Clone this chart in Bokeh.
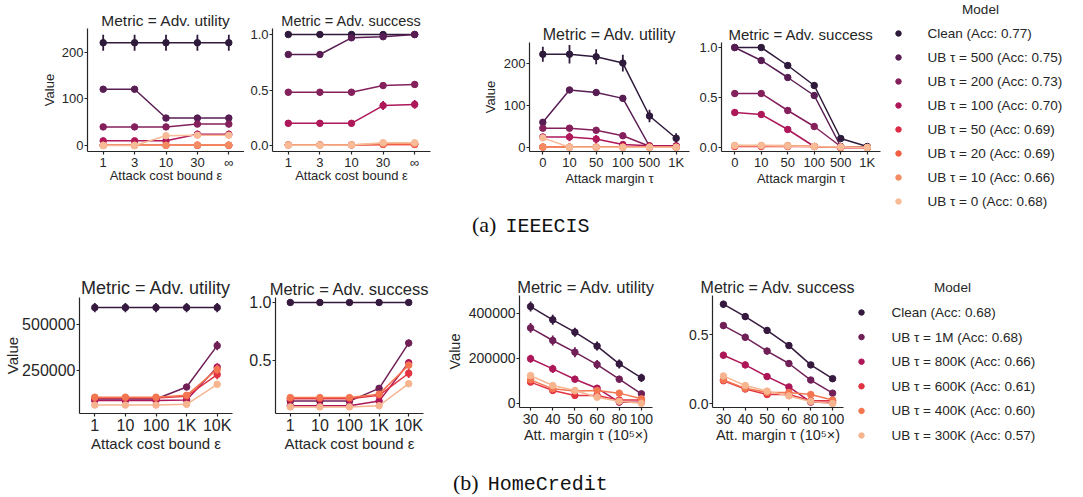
from bokeh.plotting import figure
from bokeh.layouts import row, column
from bokeh.models import Div, FactorRange, Range1d, FixedTicker, NumeralTickFormatter
from bokeh.core.properties import value
from bokeh.embed import file_html
from bokeh.resources import INLINE

FONT = "Liberation Sans"
INK = "#262626"

# ------------------------------------------------------------------ data
ieee_eps = ["1", "3", "10", "30", "∞"]
ieee_tau = ["0", "10", "50", "100", "500", "1K"]
ieee_models = ["Clean (Acc: 0.77)", "UB τ = 500 (Acc: 0.75)", "UB τ = 200 (Acc: 0.73)",
               "UB τ = 100 (Acc: 0.70)", "UB τ = 50 (Acc: 0.69)", "UB τ = 20 (Acc: 0.69)",
               "UB τ = 10 (Acc: 0.66)", "UB τ = 0 (Acc: 0.68)"]
ieee_colors = ["#2e1a3b", "#581d53", "#84205b", "#ae1759", "#dd2c45", "#f06043", "#f48c63", "#f7bb97"]

ieee_util_eps = [
    [221, 221, 221, 221, 221],
    [121, 121, 59, 59, 59],
    [40, 40, 40, 46, 46],
    [10, 10, 10, 24, 24],
    [0.5, 0.5, 0.5, 0.5, 0.5],
    [0.3, 0.3, 0.3, 0.5, 0.5],
    [0.5, 0.5, 0.5, 1, 1],
    [0, 0, 21, 22, 22],
]
ieee_util_eps_err = [
    [17, 17, 17, 17, 17],
    [5, 5, 4, 4, 4],
    [3, 3, 3, 3, 3],
    [3, 3, 3, 8, 8],
    [1, 1, 1, 1, 1],
    [1, 1, 1, 1, 1],
    [1, 1, 1, 2, 2],
    [1, 1, 3, 3, 3],
]
ieee_succ_eps = [
    [1.0, 1.0, 1.0, 1.0, 1.0],
    [0.82, 0.82, 0.97, 0.98, 1.0],
    [0.48, 0.48, 0.48, 0.54, 0.55],
    [0.20, 0.20, 0.20, 0.36, 0.37],
    [0.005, 0.005, 0.005, 0.01, 0.01],
    [0.005, 0.005, 0.005, 0.01, 0.01],
    [0.005, 0.005, 0.005, 0.02, 0.02],
    [0.003, 0.003, 0.005, 0.025, 0.025],
]
ieee_succ_eps_err = [
    [0.005, 0.005, 0.005, 0.005, 0.005],
    [0.02, 0.02, 0.02, 0.02, 0.01],
    [0.03, 0.03, 0.03, 0.03, 0.03],
    [0.03, 0.03, 0.03, 0.04, 0.04],
    [0.01, 0.01, 0.01, 0.01, 0.01],
    [0.01, 0.01, 0.01, 0.01, 0.01],
    [0.01, 0.01, 0.01, 0.015, 0.015],
    [0.01, 0.01, 0.01, 0.015, 0.015],
]
ieee_util_tau = [
    [222, 222, 216, 201, 75, 22],
    [60, 137, 131, 117, 3, 2],
    [46, 46, 41, 28, 3, 2],
    [25, 25, 20, 7, 4, 4],
    [1, 1, 1, 1, 1, 1],
    [1, 1, 1, 1, 1, 0.5],
    [1, 0.5, 0.5, 0.5, 0.5, 0.5],
    [23, 0.5, 0.5, 0.5, 0.5, 0.5],
]
ieee_util_tau_err = [
    [18, 22, 18, 20, 15, 12],
    [5, 6, 7, 8, 2, 1],
    [3, 3, 3, 3, 1, 1],
    [8, 10, 10, 6, 2, 2],
    [2, 2, 2, 2, 1, 1],
    [2, 2, 2, 2, 1, 1],
    [2, 1, 1, 1, 1, 1],
    [4, 1, 1, 1, 1, 1],
]
ieee_succ_tau = [
    [1.0, 1.0, 0.82, 0.62, 0.09, 0.01],
    [1.0, 0.87, 0.70, 0.52, 0.01, 0.0],
    [0.54, 0.54, 0.37, 0.21, 0.01, 0.0],
    [0.35, 0.33, 0.18, 0.01, 0.0, 0.0],
    [0.01, 0.01, 0.01, 0.01, 0.0, 0.0],
    [0.015, 0.015, 0.015, 0.01, 0.0, 0.0],
    [0.02, 0.02, 0.02, 0.01, 0.005, 0.0],
    [0.02, 0.02, 0.015, 0.01, 0.005, 0.0],
]
ieee_succ_tau_err = [
    [0.005, 0.01, 0.02, 0.03, 0.01, 0.005],
    [0.01, 0.02, 0.02, 0.03, 0.005, 0.005],
    [0.03, 0.03, 0.03, 0.02, 0.005, 0.005],
    [0.03, 0.03, 0.02, 0.01, 0.005, 0.005],
    [0.015, 0.015, 0.015, 0.01, 0.005, 0.005],
    [0.015, 0.015, 0.015, 0.01, 0.005, 0.005],
    [0.015, 0.015, 0.015, 0.01, 0.005, 0.005],
    [0.015, 0.015, 0.015, 0.01, 0.005, 0.005],
]

hc_eps = ["1", "10", "100", "1K", "10K"]
hc_tau = ["30", "40", "50", "60", "80", "100"]
hc_models = ["Clean (Acc: 0.68)", "UB τ = 1M (Acc: 0.68)", "UB τ = 800K (Acc: 0.66)",
             "UB τ = 600K (Acc: 0.61)", "UB τ = 400K (Acc: 0.60)", "UB τ = 300K (Acc: 0.57)"]
hc_colors = ["#35193e", "#701f57", "#ad1759", "#e13342", "#f37651", "#f6b48f"]

hc_util_eps = [
    [592000, 592000, 592000, 592000, 592000],
    [95000, 95000, 95000, 160000, 385000],
    [87000, 87000, 87000, 90000, 268000],
    [100000, 100000, 100000, 110000, 228000],
    [105000, 105000, 105000, 115000, 256000],
    [62000, 62000, 62000, 66000, 175000],
]
hc_util_eps_err = [
    [25000, 25000, 25000, 25000, 25000],
    [12000, 12000, 12000, 15000, 25000],
    [12000, 12000, 12000, 12000, 22000],
    [15000, 15000, 15000, 15000, 25000],
    [15000, 15000, 15000, 15000, 25000],
    [10000, 10000, 10000, 10000, 15000],
]
hc_succ_eps = [
    [1.0, 1.0, 1.0, 1.0, 1.0],
    [0.15, 0.15, 0.15, 0.26, 0.65],
    [0.11, 0.11, 0.11, 0.15, 0.48],
    [0.17, 0.17, 0.17, 0.20, 0.39],
    [0.18, 0.18, 0.18, 0.21, 0.46],
    [0.10, 0.10, 0.10, 0.11, 0.30],
]
hc_succ_eps_err = [
    [0.005, 0.005, 0.005, 0.005, 0.005],
    [0.02, 0.02, 0.02, 0.02, 0.03],
    [0.02, 0.02, 0.02, 0.02, 0.03],
    [0.02, 0.02, 0.02, 0.02, 0.04],
    [0.02, 0.02, 0.02, 0.02, 0.03],
    [0.01, 0.01, 0.01, 0.01, 0.02],
]
hc_util_tau = [
    [431000, 372000, 317000, 255000, 176000, 114000],
    [336000, 280000, 228000, 173000, 108000, 43000],
    [199000, 154000, 108000, 68000, 6000, 5000],
    [95000, 58000, 36000, 36000, 15000, 15000],
    [105000, 65000, 55000, 58000, 46000, 21000],
    [124000, 80000, 58000, 28000, 10000, 1000],
]
hc_util_tau_err = [
    [22000, 22000, 20000, 20000, 20000, 18000],
    [22000, 22000, 22000, 20000, 15000, 12000],
    [18000, 18000, 15000, 12000, 8000, 6000],
    [12000, 12000, 10000, 10000, 8000, 8000],
    [12000, 12000, 10000, 10000, 10000, 8000],
    [12000, 10000, 10000, 8000, 6000, 4000],
]
hc_succ_tau = [
    [0.72, 0.63, 0.53, 0.42, 0.28, 0.18],
    [0.565, 0.48, 0.38, 0.29, 0.17, 0.075],
    [0.35, 0.28, 0.195, 0.12, 0.01, 0.005],
    [0.165, 0.105, 0.065, 0.065, 0.02, 0.02],
    [0.17, 0.11, 0.08, 0.08, 0.065, 0.025],
    [0.20, 0.13, 0.09, 0.055, 0.015, 0.0],
]
hc_succ_tau_err = [
    [0.025, 0.025, 0.025, 0.025, 0.02, 0.02],
    [0.025, 0.025, 0.025, 0.025, 0.02, 0.015],
    [0.025, 0.025, 0.02, 0.02, 0.01, 0.01],
    [0.02, 0.02, 0.015, 0.015, 0.01, 0.01],
    [0.02, 0.02, 0.015, 0.015, 0.015, 0.01],
    [0.02, 0.015, 0.015, 0.01, 0.01, 0.005],
]


# ------------------------------------------------------------------ helpers
def panel(cats, vals, errs, colors, yr, yticks, yfmt, title, xlabel, ylabel,
          width, height, left, right, top, bottom,
          fs_title, fs_tick, fs_label, xl_standoff, yl_standoff, title_standoff,
          xtick_standoff=0):
    p = figure(width=width, height=height, x_range=FactorRange(*cats),
               y_range=Range1d(*yr), output_backend="svg", toolbar_location=None,
               min_border_left=left, min_border_right=right,
               min_border_top=top, min_border_bottom=bottom, frame_align=False)
    for v, e, c in zip(vals, errs, colors):
        lo = [a - b for a, b in zip(v, e)]
        hi = [a + b for a, b in zip(v, e)]
        p.line(cats, v, line_color=c, line_width=1.5)
        p.segment(x0=cats, y0=lo, x1=cats, y1=hi, line_color=c, line_width=1.8)
        p.scatter(cats, v, size=6.5, fill_color=c, line_color=c)
    p.xgrid.visible = False
    p.ygrid.visible = False
    p.outline_line_color = None
    p.yaxis.ticker = FixedTicker(ticks=yticks)
    p.yaxis.formatter = NumeralTickFormatter(format=yfmt)
    for ax in (p.xaxis[0], p.yaxis[0]):
        ax.axis_line_color = INK
        ax.axis_line_width = 1.2
        ax.major_tick_line_color = INK
        ax.major_tick_line_width = 1.2
        ax.major_tick_in = 0
        ax.major_tick_out = 3
        ax.minor_tick_line_color = None
        ax.major_label_text_font = FONT
        ax.major_label_text_font_size = fs_tick
        ax.major_label_text_color = INK
        ax.axis_label_text_font = FONT
        ax.axis_label_text_font_size = fs_label
        ax.axis_label_text_font_style = "normal"
        ax.axis_label_text_color = INK
    p.xaxis.major_label_standoff = xtick_standoff
    p.yaxis.major_label_standoff = 1
    p.xaxis.axis_label = xlabel
    p.xaxis.axis_label_standoff = xl_standoff
    if ylabel:
        p.yaxis.axis_label = ylabel
        p.yaxis.axis_label_standoff = yl_standoff
    p.title.text = title
    p.title.align = "center"
    p.title.text_font = FONT
    p.title.text_font_size = fs_title
    p.title.text_font_style = "normal"
    p.title.text_color = INK
    p.title.standoff = title_standoff
    return p


def legend_fig(labels, colors, width, height, x_dot, x_text, x_title, y0, pitch, fs):
    n = len(labels)
    idx = list(range(n))
    p = figure(width=width, height=height, x_range=Range1d(0, width),
               y_range=Range1d((height - y0) / pitch, -y0 / pitch),
               output_backend="svg", toolbar_location=None, min_border=0,
               x_axis_location=None, y_axis_location=None, frame_align=False)
    p.xgrid.visible = False
    p.ygrid.visible = False
    p.outline_line_color = None
    p.scatter(x=[x_dot] * n, y=idx, size=5.5, fill_color=colors, line_color=colors)
    p.text(x=[x_text] * n, y=idx, text=labels, text_baseline="middle", text_align="left",
           text_font=value(FONT), text_font_size=fs, text_color=INK)
    p.text(x=[x_title], y=[-1], text=["Model"], text_baseline="middle", text_align="center",
           text_font=value(FONT), text_font_size=fs, text_color=INK)
    return p


TOP_H = 215
# ------------------------------------------------------------------ top row
f1 = panel(ieee_eps, ieee_util_eps, ieee_util_eps_err, ieee_colors, (-12.9, 251.6), [0, 100, 200], "0",
           "Metric = Adv. utility", "Attack cost bound ε", "Value",
           244, TOP_H, 87, 0, 28, TOP_H - 151, "15.5px", "13px", "13px", -5, 2, 0)
f2 = panel(ieee_eps, ieee_succ_eps, ieee_succ_eps_err, ieee_colors, (-0.054, 1.054), [0, 0.5, 1.0], "0.0",
           "Metric = Adv. success", "Attack cost bound ε", None,
           202, TOP_H, 28, 16, 28, TOP_H - 151, "14.5px", "13px", "13px", -5, 2, 0)
f3 = panel(ieee_tau, ieee_util_tau, ieee_util_tau_err, ieee_colors, (-9.5, 250), [0, 100, 200], "0",
           "Metric = Adv. utility", "Attack margin τ", "Value",
           249, TOP_H, 83, 6, 42, TOP_H - 151, "16px", "13px", "13px", -2, 3, 0)
f4 = panel(ieee_tau, ieee_succ_tau, ieee_succ_tau_err, ieee_colors, (-0.04, 1.05), [0, 0.5, 1.0], "0.0",
           "Metric = Adv. success", "Attack margin τ", None,
           190, TOP_H, 26, 5, 42, TOP_H - 151, "15px", "13px", "13px", -2, 2, 0)
leg1 = legend_fig(ieee_models, ieee_colors, 198, TOP_H, 13, 42, 95, 33, 24, "13.5px")

# ------------------------------------------------------------------ bottom row
f5 = panel(hc_eps, hc_util_eps, hc_util_eps_err, hc_colors, (16300, 646700), [250000, 500000], "0",
           "Metric = Adv. utility", "Attack cost bound ε", "Value",
           240, 230, 79, 8, 57, 57, "18px", "16px", "15px", -2, -2, 0)
f6 = panel(hc_eps, hc_succ_eps, hc_succ_eps_err, hc_colors, (0.043, 1.043), [0.5, 1.0], "0.0",
           "Metric = Adv. success", "Attack cost bound ε", None,
           200, 230, 35, 17, 57, 57, "16.5px", "16px", "15px", -2, 2, 0)
f7 = panel(hc_tau, hc_util_tau, hc_util_tau_err, hc_colors, (-17800, 480000), [0, 200000, 400000], "0",
           "Metric = Adv. utility", "Att. margin τ (10⁵×)", "Value",
           230, 230, 79, 18, 55, 63, "16.5px", "14px", "14.5px", 0, 3, 0, 3)
f8 = panel(hc_tau, hc_succ_tau, hc_succ_tau_err, hc_colors, (-0.029, 0.783), [0, 0.5], "0.0",
           "Metric = Adv. success", "Att. margin τ (10⁵×)", None,
           185, 230, 42, 12, 55, 63, "16px", "14px", "14.5px", 0, 2, 0, 3)
leg2 = legend_fig(hc_models, hc_colors, 228, 230, 6, 36, 97, 72, 24.6, "13.5px")

cap_a = Div(text='<div style="position:absolute; left:472px; top:-1px; white-space:nowrap; '
                 'font-size:22px; line-height:1; color:#111; font-family:\'Liberation Serif\';">'
                 '(a)<span style="font-family:\'Liberation Mono\'; font-size:20px; margin-left:9px;">'
                 'IEEECIS</span></div>',
            width=1083, height=240 - TOP_H, margin=(0, 0, 0, 0))
cap_b = Div(text='<div style="position:absolute; left:453px; top:2px; white-space:nowrap; '
                 'font-size:22px; line-height:1; color:#111; font-family:\'Liberation Serif\';">'
                 '(b)<span style="font-family:\'Liberation Mono\'; font-size:20px; margin-left:9px;">'
                 'HomeCredit</span></div>',
            width=1083, height=27, margin=(0, 0, 0, 0))

layout = column(row(f1, f2, f3, f4, leg1), cap_a, row(f5, f6, f7, f8, leg2), cap_b)

open("out.html", "w").write(file_html(layout, INLINE))
